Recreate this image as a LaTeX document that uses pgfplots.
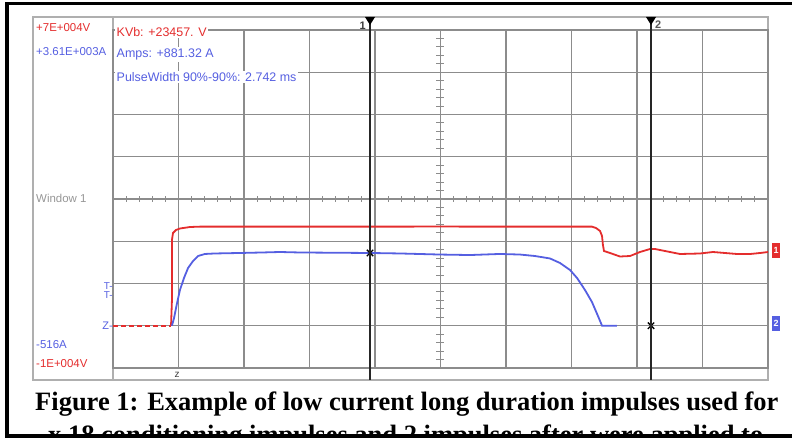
\documentclass[border=0pt]{standalone}
\usepackage{pgfplots}
\pgfplotsset{compat=1.18}
\usepackage{fontspec}
\setmainfont{Liberation Sans}
\newfontfamily\capfont{Liberation Serif}
\definecolor{tred}{RGB}{228,45,45}
\definecolor{tblue}{RGB}{85,95,225}
\definecolor{gridc}{RGB}{140,140,140}
\definecolor{panelc}{RGB}{175,175,175}
\definecolor{labgray}{RGB}{150,150,150}

\begin{document}
\begin{tikzpicture}
\path[use as bounding box] (0,0) rectangle (792bp,438bp);
\begin{scope}[x=1bp,y=1bp]
  % scope panel
  \draw[panelc, line width=1.3bp] (33,421) rectangle (768,58);
  \draw[panelc, line width=1.3bp] (113,421) -- (113,58);
  \draw[panelc, line width=1.3bp] (113,408) -- (768,408);
\end{scope}

% ---------- voltage axis (grid + red trace) ----------
\begin{axis}[at={(113bp,70bp)}, anchor=south west,
  width=655bp, height=338bp, scale only axis,
  xmin=0, xmax=5, ymin=-10000, ymax=70000,
  xtick={0,0.5,1,1.5,2,2.5,3,3.5,4,4.5,5},
  ytick={-10000,0,10000,20000,30000,40000,50000,60000,70000},
  xticklabels={}, yticklabels={}, scaled y ticks=false,
  major tick length=0pt, grid=major,
  grid style={gridc, line width=1.4bp},
  axis line style={gridc, line width=1.4bp},
  clip=false]
  \addplot[tred, line width=1.8bp, dashed, dash pattern=on 5bp off 3bp] coordinates {(0,0) (0.443,0)};
  \addplot[tred, line width=1.8bp] coordinates {
    (0.443,0) (0.450,6095) (0.450,20296) (0.458,21953) (0.481,22663) (0.511,23018)
    (0.588,23373) (0.664,23460) (1.5,23460) (2.5,23470) (3.2,23460) (3.656,23460)
    (3.687,23136) (3.718,22426) (3.733,21243) (3.740,19112) (3.748,17692) (3.794,17219)
    (3.870,16390) (3.947,16509) (4.023,17456) (4.099,18166) (4.137,18166) (4.214,17692)
    (4.328,16982) (4.481,17100) (4.580,17456) (4.672,17219) (4.763,16982) (4.863,16982)
    (4.939,17219) (5.000,17456)};
\end{axis}

% ---------- current axis (blue trace) ----------
\begin{axis}[at={(113bp,70bp)}, anchor=south west,
  width=655bp, height=338bp, scale only axis,
  xmin=0, xmax=5, ymin=-516, ymax=3610,
  hide axis, clip=false]
  \addplot[tblue, line width=1.8bp] coordinates {
    (0.450,0) (0.466,94) (0.489,277) (0.511,436) (0.542,583) (0.573,705) (0.611,790)
    (0.649,851) (0.702,876) (0.779,882) (0.969,888) (1.137,894) (1.275,900) (1.427,894)
    (1.962,888) (2.191,882) (2.496,869) (2.725,863) (2.954,876) (3.107,869) (3.221,851)
    (3.336,821) (3.412,766) (3.489,680) (3.542,583) (3.603,436) (3.656,290) (3.702,119)
    (3.733,0) (3.847,0)};
  \addplot[black, only marks, mark=x, mark size=4.5bp, line width=1.4bp] coordinates {(1.962,888) (4.107,0)};
\end{axis}

\begin{scope}[x=1bp,y=1bp]
  % centre-line minor ticks
  \foreach \k in {1,...,39} {
    \draw[gridc, line width=1bp] (436,{408-\k*8.45}) -- (444,{408-\k*8.45});
  }
  \foreach \k in {1,...,49} {
    \draw[gridc, line width=1bp] ({113+\k*13.1},236) -- ({113+\k*13.1},242);
  }
  % cursors
  \draw[black!85, line width=2bp] (370,421) -- (370,58);
  \fill[black] (365,421) -- (375,421) -- (370,413) -- cycle;
  \node[font=\fontsize{11}{12}\selectfont\bfseries, text=black!75, anchor=east, inner sep=0] at (366,412) {1};
  \draw[black!85, line width=2bp] (651,421) -- (651,58);
  \fill[black] (646,421) -- (656,421) -- (651,413) -- cycle;
  \node[font=\fontsize{11}{12}\selectfont\bfseries, text=black!65, anchor=west, inner sep=0] at (655,413) {2};
  % left labels
  \node[font=\fontsize{11.5}{12}\selectfont, text=tred, anchor=west, inner sep=0] at (36,410) {+7E+004V};
  \node[font=\fontsize{11.5}{12}\selectfont, text=tblue, anchor=west, inner sep=0] at (36,386) {+3.61E+003A};
  \node[font=\fontsize{11.5}{12}\selectfont, text=labgray, anchor=west, inner sep=0] at (36,240) {Window 1};
  \node[font=\fontsize{11.5}{12}\selectfont, text=tblue, anchor=west, inner sep=0] at (36,93) {-516A};
  \node[font=\fontsize{11.5}{12}\selectfont, text=tred, anchor=west, inner sep=0] at (36,74) {-1E+004V};
  \node[font=\fontsize{10}{10}\selectfont, text=tblue, anchor=east, inner sep=0] at (113,152) {T-};
  \node[font=\fontsize{10}{10}\selectfont, text=tblue, anchor=east, inner sep=0] at (113,143) {T-};
  \node[font=\fontsize{11}{12}\selectfont, text=tblue, anchor=east, inner sep=0] at (113,112) {Z-};
  \node[font=\fontsize{10}{12}\selectfont, text=black!75, inner sep=0] at (177,63) {z};
  % overlay readouts
  \node[font=\fontsize{12.5}{13}\selectfont, text=tred, fill=white, anchor=west, inner sep=1.5bp] at (115,406) {KVb: +23457. V};
  \node[font=\fontsize{12.5}{13}\selectfont, text=tblue, fill=white, anchor=west, inner sep=1.5bp] at (115,383.5) {Amps: +881.32 A};
  \node[font=\fontsize{12.5}{13}\selectfont, text=tblue, fill=white, anchor=west, inner sep=1.5bp] at (115,361) {PulseWidth 90\%-90\%: 2.742 ms};
  % trace markers
  \fill[tred] (772,180) rectangle (780,195);
  \node[font=\fontsize{9}{9}\selectfont\bfseries, text=white, inner sep=0] at (776,187.5) {1};
  \fill[tblue] (772,107) rectangle (780,122);
  \node[font=\fontsize{9}{9}\selectfont\bfseries, text=white, inner sep=0] at (776,114.5) {2};
  % caption
  \node[font=\capfont\bfseries\fontsize{26.6}{30}\selectfont, anchor=base west, inner sep=0] at (35,28) {Figure 1: Example of low current long duration impulses used for};
  \begin{scope}
    \clip (7,3.5) rectangle (793,20);
    \node[font=\capfont\bfseries\fontsize{26.6}{30}\selectfont, anchor=base west, inner sep=0] at (48,-5) {x 18 conditioning impulses and 2 impulses after were applied to};
  \end{scope}
  % outer frame
  \draw[black, line width=3bp] (7,434) -- (794,434);
  \draw[black, line width=3bp] (7,435.5) -- (7,2) -- (794,2);
\end{scope}
\end{tikzpicture}
\end{document}
